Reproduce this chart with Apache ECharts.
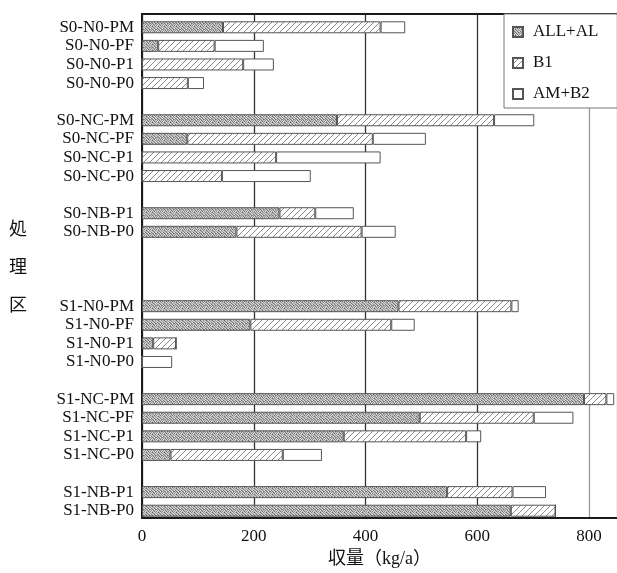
<!DOCTYPE html>
<html><head><meta charset="utf-8">
<script src="https://cdn.jsdelivr.net/npm/echarts@6/dist/echarts.min.js"></script>
<style>html,body{margin:0;padding:0;background:#fff}#c{width:617px;height:573px}</style>
</head><body><div id="c"></div>
<script>
const categories = ['S0-N0-PM','S0-N0-PF','S0-N0-P1','S0-N0-P0','',
  'S0-NC-PM','S0-NC-PF','S0-NC-P1','S0-NC-P0','',
  'S0-NB-P1','S0-NB-P0','','','',
  'S1-N0-PM','S1-N0-PF','S1-N0-P1','S1-N0-P0','',
  'S1-NC-PM','S1-NC-PF','S1-NC-P1','S1-NC-P0','',
  'S1-NB-P1','S1-NB-P0'];
const seriesNames = ['ALL+AL','B1','AM+B2'];
const allAl = [145,29,0,0,null, 349,81,0,0,null, 246,169,null,null,null, 459,194,20,0,null, 791,497,361,51,null, 546,660];
const b1    = [282,101,181,82,null, 281,332,240,143,null, 64,224,null,null,null, 202,252,41,0,null, 40,204,219,201,null, 117,80];
const amB2  = [44,88,55,29,null, 72,95,187,159,null, 69,61,null,null,null, 13,42,0,54,null, 14,71,27,70,null, 60,0];
const xTicks = [0,200,400,600,800];

// fixed texture tile for the stippled fill (hand-picked grey levels)
function stipple(){
  const lv=[
    [200,150,215,120,190,170],
    [130,225,165,205,110,210],
    [210,175,100,185,220,140],
    [160,205,195,135,170,200],
    [225,115,180,215,125,185],
    [145,195,130,160,230,105]];
  const c=document.createElement('canvas');c.width=6;c.height=6;
  const g=c.getContext('2d');
  for(let y=0;y<6;y++)for(let x=0;x<6;x++){const v=lv[y][x];g.fillStyle='rgb('+v+','+v+','+v+')';g.fillRect(x,y,1,1);}
  return c;
}
function hatch(){
  const s=6;const c=document.createElement('canvas');c.width=s;c.height=s;
  const g=c.getContext('2d');g.fillStyle='#fff';g.fillRect(0,0,s,s);
  g.strokeStyle='#8a8a8a';g.lineWidth=1;
  for(const o of [-s,0,s]){g.beginPath();g.moveTo(o,s);g.lineTo(o+s,0);g.stroke();}
  return c;
}
const fills=[{image:stipple(),repeat:'repeat'},{image:hatch(),repeat:'repeat'},'#ffffff'];
const dataSets=[allAl,b1,amB2];
const serif='"Liberation Serif","Noto Sans CJK JP",serif';

const chart=echarts.init(document.getElementById('c'),null,{renderer:'canvas'});
chart.setOption({
  animation:false,
  backgroundColor:'#fff',
  grid:[
    {left:142,top:14,width:476,height:510},
    {left:142,top:18,width:476,height:502}
  ],
  legend:{
    data:seriesNames,orient:'vertical',left:504,top:14,
    padding:[8,19,4,8],itemGap:11,itemWidth:10,itemHeight:10,icon:'rect',
    backgroundColor:'#fff',borderColor:'#777',borderWidth:1,selectedMode:false,
    textStyle:{color:'#111',fontSize:17,fontFamily:serif,lineHeight:20,padding:[0,0,0,5]}
  },
  xAxis:[
    {type:'value',gridIndex:0,min:0,max:850,interval:200,
     axisLine:{show:true,lineStyle:{color:'#1a1a1a',width:2}},axisTick:{show:false},
     axisLabel:{color:'#111',fontSize:17,fontFamily:serif,margin:10,showMaxLabel:false},
     splitLine:{show:true,lineStyle:{color:['#333','#333','#333','#333','#999','#999'],width:1.3}},
     name:'収量（kg/a）',nameLocation:'middle',nameGap:31,
     nameTextStyle:{color:'#111',fontSize:18,fontFamily:serif}},
    {type:'value',gridIndex:1,min:0,max:850,show:false},
    {type:'value',gridIndex:0,min:0,max:850,position:'top',
     axisLine:{show:true,onZero:false,lineStyle:{color:'#1a1a1a',width:2}},axisTick:{show:false},
     axisLabel:{show:false},splitLine:{show:false}}
  ],
  yAxis:[
    {type:'value',gridIndex:0,min:0,max:1,
     axisLine:{show:true,lineStyle:{color:'#1a1a1a',width:2}},axisTick:{show:false},axisLabel:{show:false},splitLine:{show:false},
     name:'処\n理\n区',nameLocation:'middle',nameRotate:0,nameGap:115,
     nameTextStyle:{color:'#111',fontSize:18,fontFamily:'"Noto Sans CJK JP",sans-serif',lineHeight:38}},
    {type:'category',gridIndex:1,inverse:true,data:categories,
     axisLine:{show:false},axisTick:{show:false},
     axisLabel:{color:'#111',fontSize:17,fontFamily:serif,margin:8,interval:0}}
  ],
  series:seriesNames.map((n,i)=>({
    name:n,type:'bar',stack:'total',xAxisIndex:1,yAxisIndex:1,barWidth:12,
    itemStyle:{color:fills[i],borderColor:'#555',borderWidth:1},
    data:dataSets[i]
  }))
});
</script></body></html>
